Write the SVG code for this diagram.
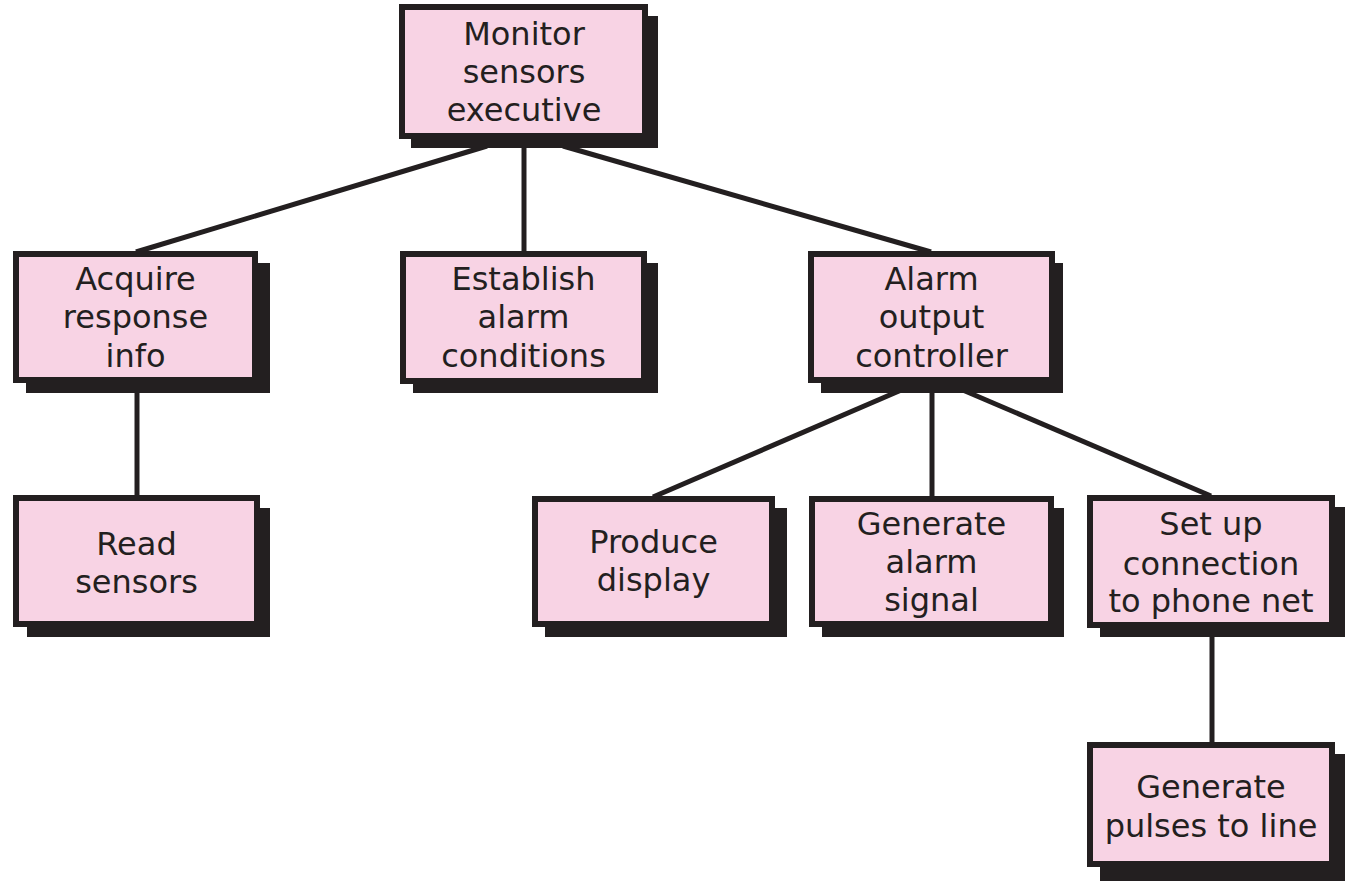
<svg xmlns="http://www.w3.org/2000/svg" width="1347" height="881" viewBox="0 0 1347 881">
  <style>
    .link { stroke: #231f20; stroke-width: 5; fill: none; stroke-linecap: butt; }
    .shadow { fill: #231f20; }
    .box { fill: #f8d3e4; stroke: #231f20; stroke-width: 6; }
    .label { font-family: "DejaVu Sans", "Liberation Sans", sans-serif; font-size: 32px; fill: #231f20; text-anchor: middle; }
  </style>
  <rect width="1347" height="881" fill="#ffffff"/>

  <!-- hierarchy connectors -->
  <g id="connectors">
    <line class="link" x1="487" y1="146" x2="136" y2="252"/>
    <line class="link" x1="524" y1="146" x2="524" y2="252"/>
    <line class="link" x1="563" y1="146" x2="931" y2="252"/>
    <line class="link" x1="137" y1="385" x2="137" y2="496"/>
    <line class="link" x1="906" y1="388" x2="653" y2="497"/>
    <line class="link" x1="932" y1="388" x2="932" y2="497"/>
    <line class="link" x1="958" y1="388" x2="1211" y2="496"/>
    <line class="link" x1="1212" y1="630" x2="1212" y2="743"/>
  </g>

  <!-- root module -->
  <g id="monitor-sensors-executive">
    <rect class="shadow" x="411" y="16" width="247" height="132"/>
    <rect class="box" x="402" y="7" width="243" height="129"/>
    <text class="label" x="524" y="45">Monitor</text>
    <text class="label" x="524" y="83">sensors</text>
    <text class="label" x="524" y="121">executive</text>
  </g>

  <g id="acquire-response-info">
    <rect class="shadow" x="26" y="263" width="244" height="130"/>
    <rect class="box" x="16" y="254" width="239" height="126"/>
    <text class="label" x="135.5" y="290">Acquire</text>
    <text class="label" x="135.5" y="328">response</text>
    <text class="label" x="135.5" y="367">info</text>
  </g>

  <g id="establish-alarm-conditions">
    <rect class="shadow" x="413" y="263" width="245" height="130"/>
    <rect class="box" x="403" y="254" width="241" height="127"/>
    <text class="label" x="523.5" y="290">Establish</text>
    <text class="label" x="523.5" y="328">alarm</text>
    <text class="label" x="523.5" y="367">conditions</text>
  </g>

  <g id="alarm-output-controller">
    <rect class="shadow" x="821" y="263" width="242" height="130"/>
    <rect class="box" x="811" y="254" width="241" height="126"/>
    <text class="label" x="931.5" y="290">Alarm</text>
    <text class="label" x="931.5" y="328">output</text>
    <text class="label" x="931.5" y="367">controller</text>
  </g>

  <g id="read-sensors">
    <rect class="shadow" x="27" y="508" width="243" height="129"/>
    <rect class="box" x="16" y="498" width="241" height="126"/>
    <text class="label" x="136.5" y="555">Read</text>
    <text class="label" x="136.5" y="593">sensors</text>
  </g>

  <g id="produce-display">
    <rect class="shadow" x="545" y="508" width="242" height="129"/>
    <rect class="box" x="535" y="499" width="237" height="125"/>
    <text class="label" x="653.5" y="553">Produce</text>
    <text class="label" x="653.5" y="591">display</text>
  </g>

  <g id="generate-alarm-signal">
    <rect class="shadow" x="822" y="508" width="242" height="129"/>
    <rect class="box" x="812" y="499" width="239" height="125"/>
    <text class="label" x="931.5" y="535">Generate</text>
    <text class="label" x="931.5" y="573">alarm</text>
    <text class="label" x="931.5" y="611">signal</text>
  </g>

  <g id="set-up-connection">
    <rect class="shadow" x="1100" y="507" width="245" height="130"/>
    <rect class="box" x="1090" y="498" width="242" height="127"/>
    <text class="label" x="1211" y="535">Set up</text>
    <text class="label" x="1211" y="575">connection</text>
    <text class="label" x="1211" y="612">to phone net</text>
  </g>

  <g id="generate-pulses-to-line">
    <rect class="shadow" x="1100" y="754" width="245" height="127"/>
    <rect class="box" x="1090" y="745" width="242" height="119"/>
    <text class="label" x="1211" y="798">Generate</text>
    <text class="label" x="1211" y="837">pulses to line</text>
  </g>
</svg>
